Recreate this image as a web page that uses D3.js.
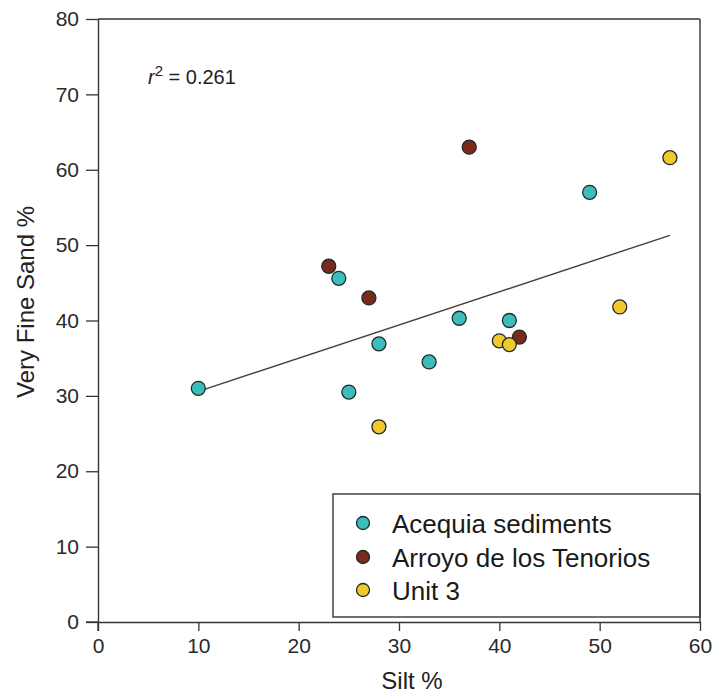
<!DOCTYPE html>
<html>
<head>
<meta charset="utf-8">
<script src="https://cdn.jsdelivr.net/npm/d3@7"></script>
<style>
  html, body { margin: 0; padding: 0; background: #fff; }
  svg { display: block; font-family: Arial, "Liberation Sans", sans-serif; }
</style>
</head>
<body>
<svg id="chart" width="713" height="696"></svg>
<script>
// ---- data ----
const seriesNames = ["Acequia sediments", "Arroyo de los Tenorios", "Unit 3"];
const seriesColors = ["#3dbcbc", "#7a2a1c", "#f1c92b"];

const acequiaSilt = [10, 24, 25, 28, 33, 36, 41, 49];
const acequiaVFS  = [31.0, 45.6, 30.5, 36.9, 34.5, 40.3, 40.0, 57.0];

const arroyoSilt = [23, 27, 37, 42];
const arroyoVFS  = [47.2, 43.0, 63.0, 37.8];

const unit3Silt = [28, 40, 41, 52, 57];
const unit3VFS  = [25.9, 37.3, 36.8, 41.8, 61.6];

const regSilt = [10, 57];
const regVFS  = [30.6, 51.3];

const xTicks = [0, 10, 20, 30, 40, 50, 60];
const yTicks = [0, 10, 20, 30, 40, 50, 60, 70, 80];
const rSquared = "0.261";

// ---- layout ----
const svg = d3.select("#chart");
const pLeft = 98, pRight = 700, pTop = 19, pBottom = 622;
const x = d3.scaleLinear().domain([0, 60]).range([pLeft, pRight]);
const y = d3.scaleLinear().domain([0, 80]).range([pBottom, pTop]);
const axisColor = "#3a3333";

// frame (top)
svg.append("line").attr("x1", pLeft).attr("x2", pRight).attr("y1", pTop).attr("y2", pTop)
  .attr("stroke", axisColor).attr("stroke-width", 1.4);

// axes
const xAxis = svg.append("g").attr("transform", `translate(0,${pBottom})`)
  .call(d3.axisBottom(x).tickValues(xTicks).tickSize(9).tickSizeOuter(0).tickPadding(7).tickFormat(d3.format("d")));
const yAxis = svg.append("g").attr("transform", `translate(${pLeft},0)`)
  .call(d3.axisLeft(y).tickValues(yTicks).tickSize(12).tickSizeOuter(0).tickPadding(7).tickFormat(d3.format("d")));

[xAxis, yAxis].forEach(g => {
  g.select(".domain").attr("stroke", axisColor).attr("stroke-width", 1.4);
  g.selectAll(".tick line").attr("stroke", axisColor).attr("stroke-width", 1.3);
  g.selectAll(".tick text").attr("fill", "#2a2a2a").style("font-size", "21px")
    .style("font-family", "Arial, 'Liberation Sans', sans-serif");
});

// axis titles
svg.append("text").attr("x", 412).attr("y", 689).attr("text-anchor", "middle")
  .style("font-size", "24px").attr("fill", "#222").text("Silt %");
svg.append("text").attr("transform", "translate(34,302) rotate(-90)").attr("text-anchor", "middle")
  .style("font-size", "24px").attr("fill", "#222").text("Very Fine Sand %");

// r^2 label
const rt = svg.append("text").attr("x", 148).attr("y", 84).style("font-size", "20px").attr("fill", "#222");
rt.append("tspan").style("font-style", "italic").text("r");
rt.append("tspan").attr("dy", -8).style("font-size", "15px").text("2");
rt.append("tspan").attr("dy", 8).text(" = " + rSquared);

// regression line
svg.append("line")
  .attr("x1", x(regSilt[0])).attr("y1", y(regVFS[0]))
  .attr("x2", x(regSilt[1])).attr("y2", y(regVFS[1]))
  .attr("stroke", "#4a3d38").attr("stroke-width", 1.4);

// points
const series = [
  { name: seriesNames[0], color: seriesColors[0], xs: acequiaSilt, ys: acequiaVFS },
  { name: seriesNames[1], color: seriesColors[1], xs: arroyoSilt, ys: arroyoVFS },
  { name: seriesNames[2], color: seriesColors[2], xs: unit3Silt, ys: unit3VFS }
];
series.forEach(s => {
  svg.append("g").selectAll("circle")
    .data(s.xs.map((v, i) => [v, s.ys[i]]))
    .join("circle")
    .attr("cx", d => x(d[0])).attr("cy", d => y(d[1])).attr("r", 7)
    .attr("fill", s.color).attr("stroke", "#1e2a2a").attr("stroke-width", 1.3);
});

// legend
const lg = svg.append("g");
lg.append("rect").attr("x", 333).attr("y", 494).attr("width", pRight - 333).attr("height", 617 - 494)
  .attr("fill", "#fff").attr("stroke", axisColor).attr("stroke-width", 1.4);
const rowY = [523, 557, 590];
series.forEach((s, i) => {
  lg.append("circle").attr("cx", 363).attr("cy", rowY[i]).attr("r", 6.5)
    .attr("fill", s.color).attr("stroke", "#1e2a2a").attr("stroke-width", 1.3);
  lg.append("text").attr("x", 392).attr("y", rowY[i] + 9.5).style("font-size", "26px")
    .attr("fill", "#1a1a1a").text(s.name);
});

// right frame, drawn last so it sits over the legend edge
svg.append("line").attr("x1", pRight).attr("x2", pRight).attr("y1", pTop).attr("y2", pBottom)
  .attr("stroke", axisColor).attr("stroke-width", 1.4);
// axes cross at the origin, as in the original
svg.append("line").attr("x1", pLeft - 12).attr("x2", pLeft).attr("y1", pBottom).attr("y2", pBottom)
  .attr("stroke", axisColor).attr("stroke-width", 1.4);
svg.append("line").attr("x1", pLeft).attr("x2", pLeft).attr("y1", pBottom).attr("y2", pBottom + 9)
  .attr("stroke", axisColor).attr("stroke-width", 1.4);
</script>
</body>
</html>
